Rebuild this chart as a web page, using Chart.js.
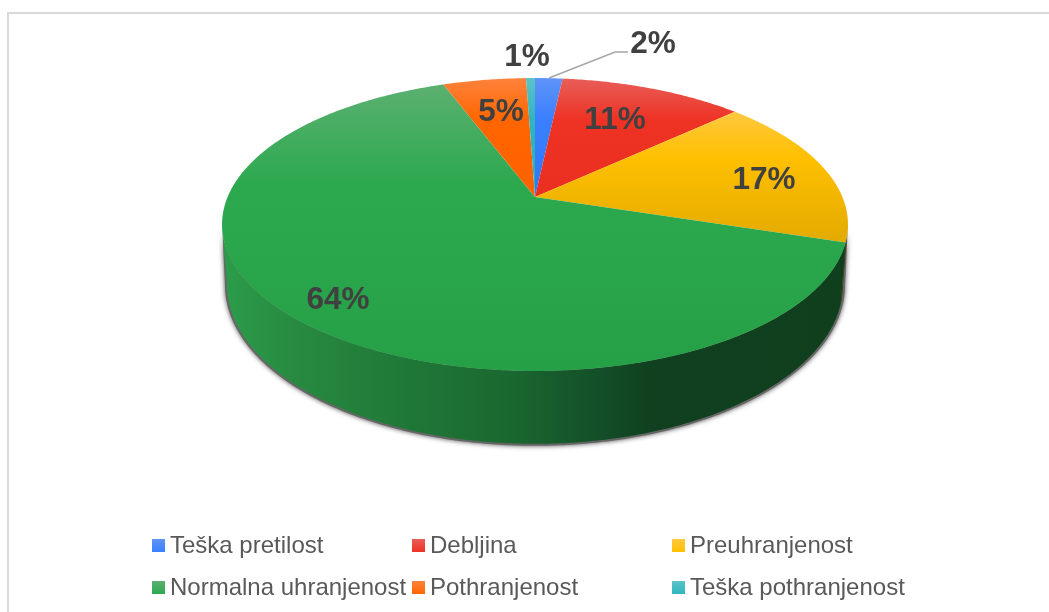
<!DOCTYPE html>
<html>
<head>
<meta charset="utf-8">
<style>
    html, body { margin: 0; padding: 0; background: #fff; }
    #wrap { position: relative; width: 1049px; height: 612px; overflow: hidden; font-family: "Liberation Sans", Arial, sans-serif; }
    #frame { position: absolute; left: 7px; top: 12px; width: 1100px; height: 700px; border-left: 2px solid #d9d9d9; border-top: 2px solid #d9d9d9; }
    #pie { position: absolute; left: 0; top: 0; }
    .key { position: absolute; font-size: 24px; line-height: 26px; color: #595959; white-space: nowrap; }
    .swatch { position: absolute; width: 13px; height: 13px; }
</style>
</head>
<body>
<div id="wrap">
    <div id="frame"></div>
    <canvas id="pie" width="1049" height="612"></canvas>
    <div id="legend"></div>
</div>
<script src="https://cdn.jsdelivr.net/npm/chart.js@4"></script>
<script>
const categories = ["Teška pretilost", "Debljina", "Preuhranjenost", "Normalna uhranjenost", "Pothranjenost", "Teška pothranjenost"];
const values = [1.7, 11.4, 16.8, 64.4, 5.15, 0.55];
const baseColors = ["#3a7fff", "#ee3224", "#ffc000", "#2ca94f", "#ff6600", "#2fb5bf"];
const lightColors = ["#5f94f8", "#e85e58", "#ffc840", "#5bb070", "#ff823c", "#5cc3c9"];
const darkColors = ["#2f78f5", "#ea2e20", "#e3aa00", "#26a047", "#fb6200", "#2bb0ba"];
const wallColors = ["#1c4a99", "#8a1c14", "#3d3a08", "#1a6a30", "#993d00", "#1c6e74"];

// label centres and legend cells, in page pixels
const labelSpots = [[653, 44], [615, 120], [764, 180], [338, 300], [501, 112], [527, 57]];
const legendCols = [152, 412, 672];
const legendRows = [539, 581];

// the tilted disc: top face and bottom face are the same circle under a perspective map
const K = 0.1877;
const topFace = { cx: 535, cy: 197, a: 307.4, b: 141.3 };
const bottomFace = { cx: 535, cy: 255, a: 302.5, b: 153.4 };
const shadowFace = { cx: 535, cy: 255, a: 304.5, b: 155 };

function project(face, theta) {
    const u = Math.sin(theta), v = -Math.cos(theta), w = 1 - K * v;
    return [face.cx + face.a * u / w, face.cy + face.b * v / w];
}

function sweep(face, from, to) {
    const pts = [], n = Math.max(2, Math.ceil(Math.abs(to - from) / 0.01));
    for (let i = 0; i <= n; i++) pts.push(project(face, from + (to - from) * i / n));
    return pts;
}

function fillPath(ctx, pts) {
    ctx.beginPath();
    pts.forEach((p, i) => i ? ctx.lineTo(p[0], p[1]) : ctx.moveTo(p[0], p[1]));
    ctx.closePath();
    ctx.fill();
}

const wallFrom = Math.acos(-K), wallTo = 2 * Math.PI - wallFrom;

const disc3d = {
    id: "disc3d",
    // the library's arcs give the angles, the faces are drawn here
    beforeDatasetDraw(chart) {
        const ctx = chart.ctx;
        const arcs = chart.getDatasetMeta(0).data.map(a => {
            const p = a.getProps(["startAngle", "endAngle"], true);
            return { from: p.startAngle + Math.PI / 2, to: p.endAngle + Math.PI / 2 };
        });

        // shadow under the side wall
        ctx.save();
        ctx.shadowColor = "rgba(0,0,0,0.7)";
        ctx.shadowBlur = 5;
        ctx.fillStyle = "#666";
        fillPath(ctx, sweep(shadowFace, wallFrom, wallTo).concat(sweep(topFace, wallTo, wallFrom)));
        ctx.restore();

        // side wall, only the arc facing the viewer
        arcs.forEach((arc, i) => {
            const from = Math.max(arc.from, wallFrom), to = Math.min(arc.to, wallTo);
            if (to <= from) return;
            if (i === 3) {
                const g = ctx.createLinearGradient(226, 0, 843, 0);
                g.addColorStop(0, "#2b9c4a");
                g.addColorStop(0.12, "#27893f");
                g.addColorStop(0.3, "#1f7737");
                g.addColorStop(0.46, "#1a6830");
                g.addColorStop(0.6, "#145029");
                g.addColorStop(0.69, "#10401f");
                g.addColorStop(1, "#103f1e");
                ctx.fillStyle = g;
            } else {
                ctx.fillStyle = wallColors[i];
            }
            fillPath(ctx, sweep(bottomFace, from, to).concat(sweep(topFace, to, from)));
        });

        // top face
        arcs.forEach((arc, i) => {
            const rim = sweep(topFace, arc.from, arc.to);
            const ys = rim.map(p => p[1]).concat(topFace.cy);
            const g = ctx.createLinearGradient(0, Math.min(...ys), 0, Math.max(...ys));
            g.addColorStop(0, lightColors[i]);
            g.addColorStop(0.35, baseColors[i]);
            g.addColorStop(1, darkColors[i]);
            ctx.fillStyle = g;
            fillPath(ctx, [[topFace.cx, topFace.cy]].concat(rim));
        });

        // leader line of the small slice
        ctx.strokeStyle = "#a6a6a6";
        ctx.lineWidth = 1.5;
        ctx.beginPath();
        ctx.moveTo(549, 78);
        ctx.lineTo(615, 52);
        ctx.lineTo(628, 52);
        ctx.stroke();

        // percentages
        ctx.fillStyle = "#404040";
        ctx.font = "bold 31.5px 'Liberation Sans', Arial, sans-serif";
        ctx.textAlign = "center";
        ctx.textBaseline = "middle";
        values.forEach((v, i) => ctx.fillText(Math.round(v) + "%", labelSpots[i][0], labelSpots[i][1]));
        return false;
    }
};

new Chart(document.getElementById("pie").getContext("2d"), {
    type: "pie",
    data: {
        labels: categories,
        datasets: [{ data: values, backgroundColor: baseColors, borderWidth: 0 }]
    },
    options: {
        responsive: false,
        animation: false,
        events: [],
        plugins: { legend: { display: false }, tooltip: { enabled: false } }
    },
    plugins: [disc3d]
});

// legend, three columns by two rows
const legend = document.getElementById("legend");
categories.forEach((name, i) => {
    const x = legendCols[i % 3], y = legendRows[Math.floor(i / 3)];
    const swatch = document.createElement("div");
    swatch.className = "swatch";
    swatch.style.left = x + "px";
    swatch.style.top = y + "px";
    swatch.style.background = "linear-gradient(" + lightColors[i] + "," + baseColors[i] + ")";
    legend.appendChild(swatch);
    const key = document.createElement("div");
    key.className = "key";
    key.style.left = (x + 18) + "px";
    key.style.top = (y - 7) + "px";
    key.textContent = name;
    legend.appendChild(key);
});
</script>
</body>
</html>
